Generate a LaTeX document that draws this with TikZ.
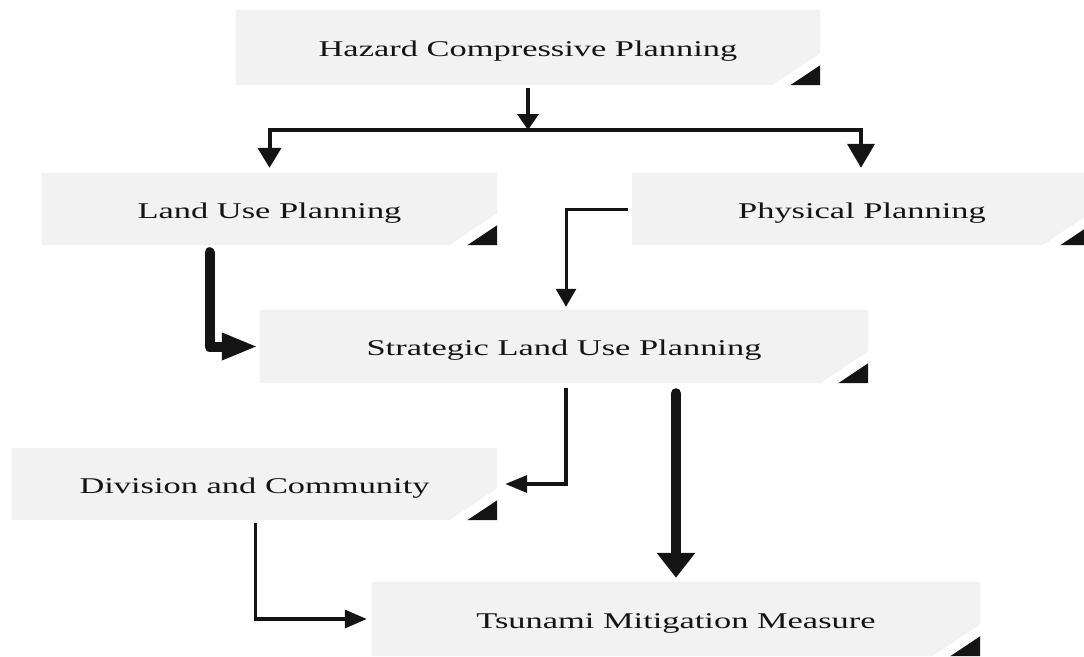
\documentclass[tikz,border=0pt]{standalone}
\usepackage{fontspec}
\setmainfont{Liberation Serif}
\usetikzlibrary{arrows.meta,calc}
\pgfdeclarelayer{background}
\pgfsetlayers{background,main}

\definecolor{boxfill}{HTML}{F2F2F2}
\definecolor{ink}{HTML}{141414}

% label text, widened horizontally; baseline set a fixed distance below the panel centre
\newcommand\lbl[1]{\raisebox{-9pt}[0pt][0pt]{\scalebox{1.53}[1]{#1}}}

% grey panel with a cut corner and a dark fold triangle
\newcommand\foldbox[1]{%
  \begin{pgfonlayer}{background}
    \fill[boxfill] (#1.north west) -- (#1.north east) -- ([yshift=32pt]#1.south east)
      -- ([xshift=-48pt]#1.south east) -- (#1.south west) -- cycle;
    \fill[ink] ([yshift=20pt]#1.south east) -- (#1.south east)
      -- ([xshift=-30pt]#1.south east) -- cycle;
  \end{pgfonlayer}}

\tikzset{
  panel/.style={rectangle, inner sep=0pt, text=ink,
    font=\fontsize{22.5}{27}\selectfont},
  thinarrow/.style={draw=ink, line width=3.5pt, line join=miter},
  heavyarrow/.style={draw=ink, line width=10pt, line cap=round, line join=round},
}

\begin{document}
\begin{tikzpicture}[x=1pt, y=-1pt]
  \useasboundingbox (0,0) rectangle (1084,656);

  % panels
  \node[panel, minimum width=584pt, minimum height=75pt] (haz)   at (528,47.5) {\lbl{Hazard Compressive Planning}};
  \node[panel, minimum width=455pt, minimum height=72pt] (land)  at (269.5,209) {\lbl{Land Use Planning}};
  \node[panel, minimum width=458pt, minimum height=72pt] (phys)  at (861,209) {\hspace*{2pt}\lbl{Physical Planning}};
  \node[panel, minimum width=608pt, minimum height=73pt] (strat) at (564,346.5) {\lbl{Strategic Land Use Planning}};
  \node[panel, minimum width=485pt, minimum height=72pt] (div)   at (254.5,484) {\lbl{Division and Community}};
  \node[panel, minimum width=608pt, minimum height=74pt] (tsu)   at (676,619) {\lbl{Tsunami Mitigation Measure}};

  \foldbox{haz}
  \foldbox{land}
  \foldbox{phys}
  \foldbox{strat}
  \foldbox{div}
  \foldbox{tsu}

  % branching from the top panel
  \coordinate (split) at (528,130);
  \draw[thinarrow, shorten <=3pt, -{Triangle[length=16pt,width=21pt]}] (haz.south) -- (split);
  \draw[thinarrow, line width=4pt, shorten >=5pt, -{Triangle[length=20pt,width=23pt]}] (split) -| (land.north);
  \draw[thinarrow, line width=4pt, shorten >=5pt, -{Triangle[length=24pt,width=27pt]}] (split) -| (phys.north);

  % into the strategic panel
  \draw[thinarrow, line width=3pt, shorten <=4pt, shorten >=3pt, -{Triangle[length=18pt,width=20pt]}]
    (phys.west) -| ([xshift=2pt]strat.north);
  \draw[heavyarrow, shorten <=7pt, shorten >=2pt, -{Triangle[length=36pt,width=25pt]}]
    ([xshift=-60pt]land.south) |- (strat.west);

  % out of the strategic panel
  \draw[thinarrow, shorten <=5pt, shorten >=8pt, -{Triangle[length=22pt,width=17pt]}]
    ([xshift=2pt]strat.south) |- (div.east);
  \draw[heavyarrow, shorten <=10pt, shorten >=4pt, -{Triangle[length=25pt,width=37pt]}]
    (strat.south -| tsu.north) -- (tsu.north);

  % into the bottom panel
  \draw[thinarrow, shorten <=3pt, shorten >=5pt, -{Triangle[length=22pt,width=18pt]}]
    ([xshift=1pt]div.south) |- (tsu.west);
\end{tikzpicture}
\end{document}
